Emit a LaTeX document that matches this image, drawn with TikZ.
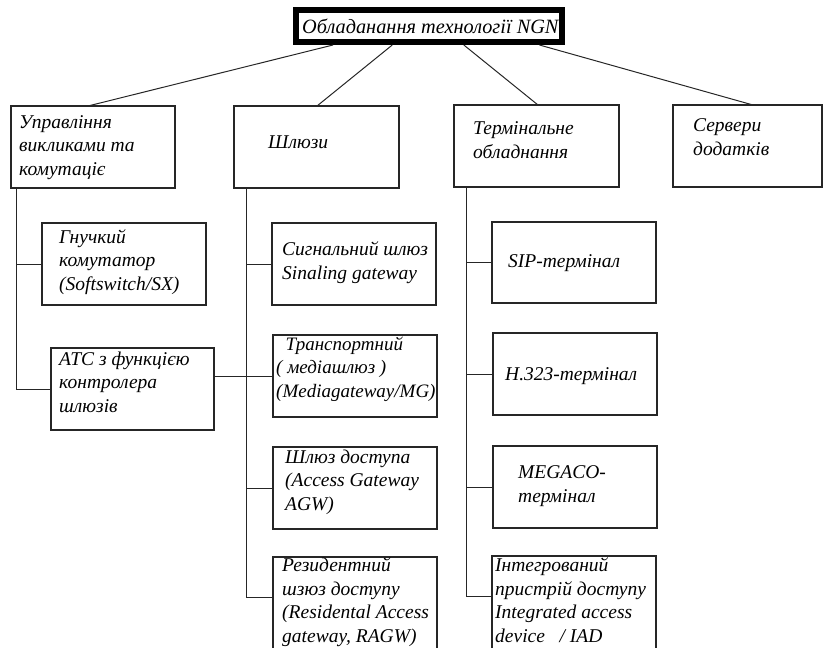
\documentclass[tikz,border=0pt]{standalone}
\usepackage{fontspec}
\setmainfont{Liberation Serif}
\usetikzlibrary{calc}
\newcommand\mkbox[5]{\node[boxst, minimum width={#4-#2}, minimum height={#5-#3}] (#1) at ({(#2+#4)/2},{(#3+#5)/2}) {};}
\begin{document}
\begin{tikzpicture}[x=1pt,y=-1pt,
  boxst/.style={draw=black!85, line width=1.3pt, fill=white, inner sep=0, outer sep=0},
  txt/.style={anchor=base west, inner sep=0, align=left, font=\fontsize{19.5}{23.5}\selectfont\itshape},
  conn/.style={draw=black!85, line width=1pt}]
\useasboundingbox (0,0) rectangle (825,648);
\clip (0,0) rectangle (825,648);
% top
\node[draw=black, line width=6pt, fill=white, inner sep=0, outer sep=3pt, minimum width=266, minimum height=32] (top) at (429,26) {};
% level 1
\mkbox{A}{11}{106}{175}{188}
\mkbox{B}{234}{106}{399}{188}
\mkbox{C}{454}{105}{619}{187}
\mkbox{D}{673}{105}{822}{187}
% level 2
\mkbox{gn}{42}{223}{206}{305}
\mkbox{atc}{51}{348}{214}{430}
\mkbox{sig}{272}{223}{436}{305}
\mkbox{tr}{273}{335}{437}{417}
\mkbox{agw}{273}{447}{437}{529}
\mkbox{res}{273}{557}{437}{680}
\mkbox{sip}{492}{222}{656}{303}
\mkbox{h}{493}{333}{657}{415}
\mkbox{meg}{493}{446}{657}{528}
\mkbox{iad}{492}{556}{656}{680}
% connectors from top
\draw[conn] ($(top.south west)!0.147!(top.south east)$) -- ($(A.north west)+(77,0)$);
\draw[conn] ($(top.south west)!0.365!(top.south east)$) -- ($(B.north west)+(83,0)$);
\draw[conn] ($(top.south west)!0.628!(top.south east)$) -- ($(C.north west)+(84,0)$);
\draw[conn] ($(top.south west)!0.906!(top.south east)$) -- ($(D.north west)+(80,0)$);
% spines
\coordinate (sA) at ($(A.south west)+(5,0)$);
\coordinate (sB) at ($(B.south west)+(12,0)$);
\coordinate (sC) at ($(C.south west)+(12,0)$);
\draw[conn] (sA) |- (atc.west);
\draw[conn] (sA |- gn.west) -- (gn.west);
\draw[conn] (sB) |- ($(res.north west)+(0,40)$);
\draw[conn] (sB |- sig.west) -- (sig.west);
\draw[conn] (sB |- agw.west) -- (agw.west);
\draw[conn] (atc.east |- tr.west) -- (tr.west);
\draw[conn] (sC) |- ($(iad.north west)+(0,40)$);
\draw[conn] (sC |- sip.west) -- (sip.west);
\draw[conn] (sC |- h.west) -- (h.west);
\draw[conn] (sC |- meg.west) -- (meg.west);
% texts (anchor = baseline of last line)
\node[txt, font=\fontsize{20.3}{24}\selectfont\itshape] (ttop) at (302,33) {Обладанання технології NGN};
\node[txt] (tA) at (19,175) {Управління\\викликами та\\комутаціє};
\node[txt] (tB) at (268,148) {Шлюзи};
\node[txt] (tC) at (473,158) {Термінальне\\обладнання};
\node[txt] (tD) at (693,155) {Сервери\\додатків};
\node[txt] (tgn) at (59,290) {Гнучкий\\комутатор\\(Softswitch/SX)};
\node[txt] (tatc) at (59,412) {АТС з функцією\\контролера\\шлюзів};
\node[txt] (tsig) at (282,279) {Сигнальний шлюз\\Sinaling gateway};
\node[txt, font=\fontsize{19}{23.5}\selectfont\itshape] (ttr) at (276,397) {\ \ Транспортний\\( медіашлюз )\\(Mediagateway/MG)};
\node[txt] (tagw) at (285,510) {Шлюз доступа\\(Access Gateway\\AGW)};
\node[txt] (tres) at (282,642) {Резидентний\\шзюз доступу\\(Residental Access\\gateway, RAGW)};
\node[txt] (tsip) at (508,267) {SIP-термінал};
\node[txt] (th) at (505,380) {H.323-термінал};
\node[txt] (tmeg) at (518,502) {MEGACO-\\термінал};
\node[txt] (tiad) at (495,642) {Інтегрований\\пристрій доступу\\Integrated access\\device~~ / IAD};
\end{tikzpicture}
\end{document}
